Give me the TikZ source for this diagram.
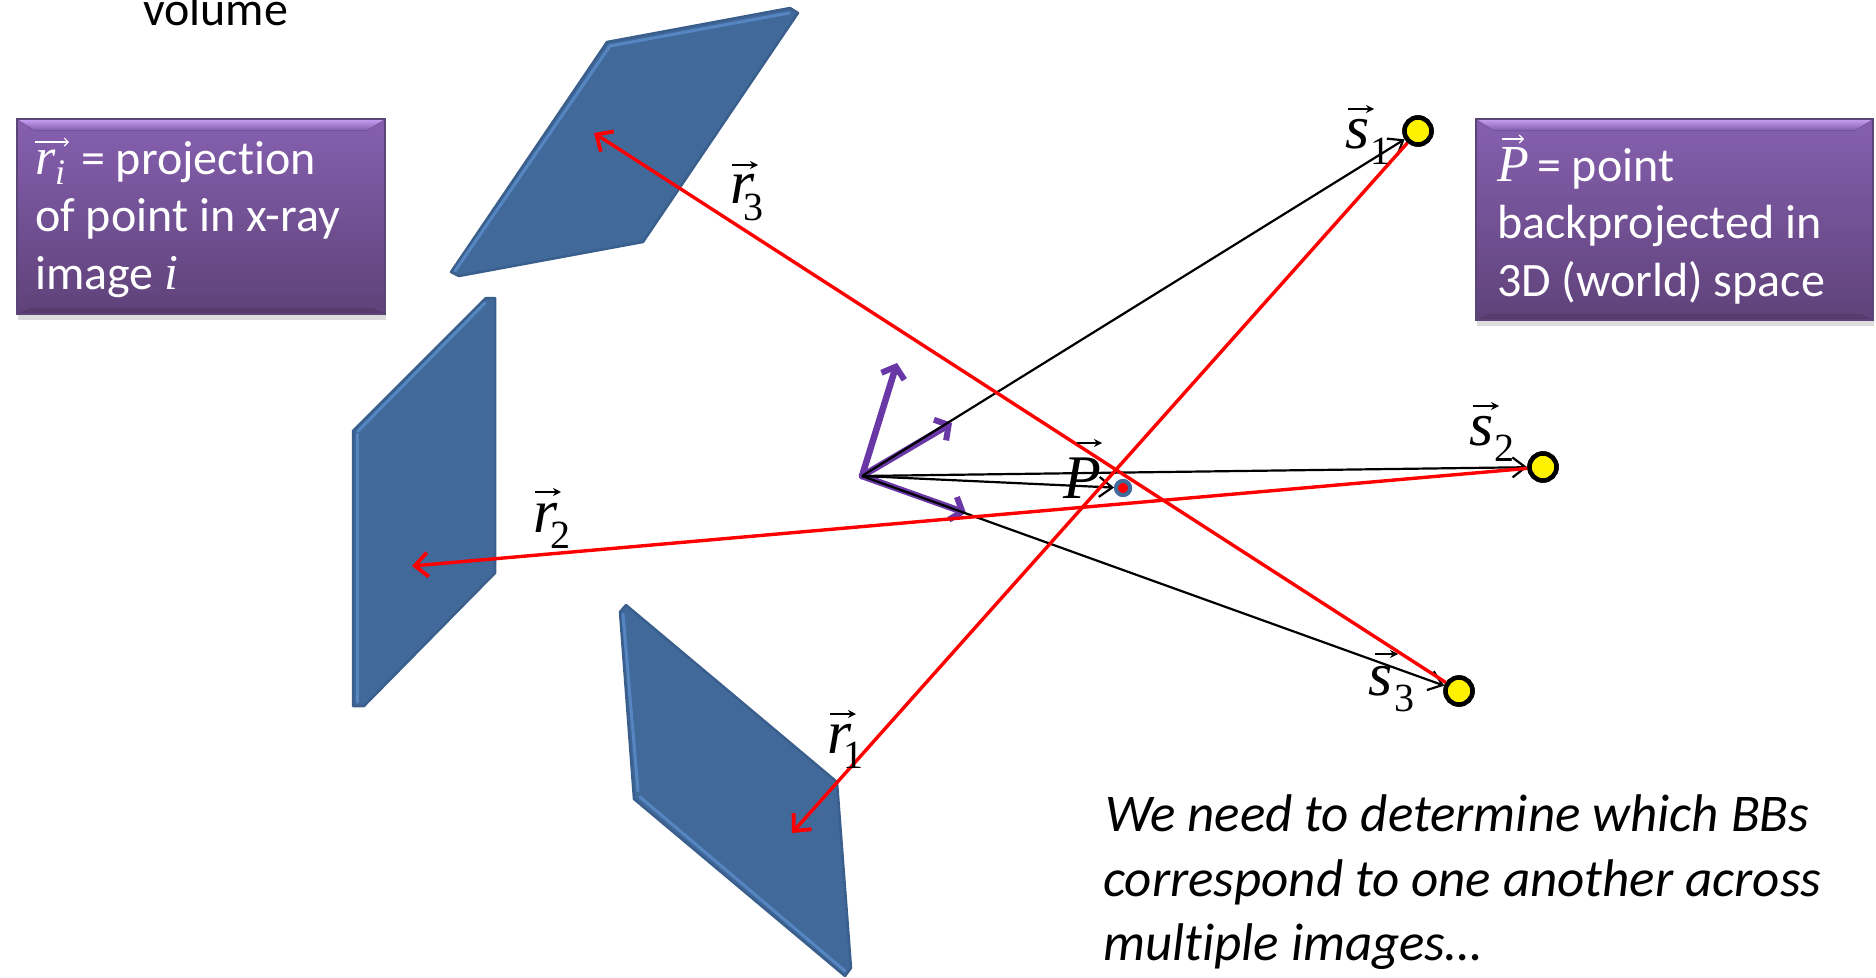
\documentclass[tikz,border=0pt]{standalone}
\usepackage{fontspec}
\usetikzlibrary{arrows.meta,shadows}
\setmainfont[Ligatures=NoCommon]{Carlito}
\newfontfamily\tnr{Liberation Serif}
\definecolor{panel}{HTML}{41699A}
\definecolor{paneledge}{HTML}{3A5F8C}
\definecolor{panellight}{HTML}{5586C2}
\definecolor{boxtop}{HTML}{8660B0}
\definecolor{boxbot}{HTML}{5F4279}
\definecolor{boxedge}{HTML}{5B4476}
\definecolor{bevel}{HTML}{C9A0F4}
\definecolor{arrowpurple}{HTML}{6A37A6}
\definecolor{ptblue}{HTML}{41699A}
\tikzset{
  x=1pt,y=-1pt,
  panelbody/.style={fill=panel,draw=paneledge,line width=2.5pt,line join=round},
  panelrim/.style={draw=panellight,line width=3pt,line cap=round},
  redray/.style={draw=red,line width=3.4pt,-{Straight Barb[length=13pt,width=24pt,line width=3.8pt]}},
  blackray/.style={draw=black,line width=2.2pt,-{Straight Barb[length=13pt,width=20pt,line width=2.2pt]}},
  purplearrow/.style={draw=arrowpurple,line width=6.5pt,line cap=round,-{Straight Barb[length=10pt,width=24pt,line width=6pt]}},
  bb/.style={circle,fill=yellow,draw=black,line width=4.5pt,minimum size=27pt,inner sep=0pt},
  veclabel/.style={inner sep=0pt,anchor=base west,font=\tnr\itshape\fontsize{62}{62}\selectfont},
  vecsub/.style={inner sep=0pt,anchor=base west,font=\tnr\fontsize{40}{40}\selectfont},
  vecbar/.style={draw=black,line width=2pt,-{Stealth[length=8pt,width=8pt]}},
  boxtext/.style={inner sep=0pt,anchor=base west,text=white,font=\fontsize{48}{48}\selectfont},
  boxmath/.style={inner sep=0pt,anchor=base west,text=white,font=\tnr\itshape\fontsize{52}{52}\selectfont},
  whitebar/.style={draw=white,line width=1.3pt,-{Straight Barb[length=4pt,width=8pt,line width=1.2pt]}},
  note/.style={inner sep=0pt,anchor=base west,font=\itshape\fontsize{53}{53}\selectfont},
}
\newcommand{\purplebox}[4]{%
  \fill[black!45,opacity=.3] (#1+1,#4) rectangle (#3+1,#4+6);
  \shade[top color=boxtop,bottom color=boxbot] (#1,#2) rectangle (#3,#4);
  \fill[black,opacity=.10] (#1,#4) -- (#1+12,#4-6) -- (#3-12,#4-6) -- (#3,#4) -- cycle;
  \fill[top color=bevel,bottom color=boxtop] (#1,#2) -- (#3,#2) -- (#3-17,#2+11) -- (#1+17,#2+11) -- cycle;
  \draw[boxedge,line width=1.5pt] (#1,#2) rectangle (#3,#4);
}
\begin{document}
\begin{tikzpicture}
\useasboundingbox (0,0) rectangle (1876,977);
\begin{scope}
\clip (0,0) rectangle (1876,977);
\node[inner sep=0pt,anchor=base west,font=\fontsize{48}{48}\selectfont] (volume) at (143,25) {volume};

% top panel
\draw[panelbody] (607,42) -- (790,8) -- (798,13) -- (643,242) -- (459,276) -- (451,272) -- cycle;
\draw[panelrim] (789,13) -- (610,46) -- (455,271);
% left panel
\draw[panelbody] (486,298) -- (495,298) -- (495,573) -- (364,706) -- (353,706) -- (353,431) -- cycle;
\draw[panelrim] (485,303) -- (358,431);
\draw[panelrim] (357,434) -- (357,702);
% bottom panel
\draw[panelbody] (626,605) -- (837,782) -- (851,968) -- (845,976) -- (634,799) -- (620,612) -- cycle;
\draw[panelrim] (623,614) -- (638,791);
\draw[panelrim] (640,797) -- (845,971);

% purple boxes
\purplebox{17}{119}{385}{314}
\purplebox{1476}{119}{1873}{320}

\node[boxmath] (boxr) at (35,174) {r};
\node[inner sep=0pt,anchor=base west,text=white,font=\tnr\itshape\fontsize{36}{36}\selectfont] (boxri) at (55,184) {i};
\draw[whitebar] (35,142) -- (69,142);
\node[boxtext] (t1) at (81,174) {= projection};
\node[boxtext] (t2) at (35,231) {of point in x-ray};
\node[boxtext] (t3) at (35,289) {image {\tnr\itshape\fontsize{50}{50}\selectfont i}};

\node[boxmath] (boxp) at (1497,181) {P};
\draw[whitebar] (1502,139) -- (1524,139);
\node[boxtext] (t4) at (1537,181) {= point};
\node[boxtext] (t5) at (1497,238) {backprojected in};
\node[boxtext] (t6) at (1497,296) {3D (world) space};

% named points
\coordinate (O) at (862,476);
\coordinate (pa) at (897,363);
\coordinate (pb) at (952,423);
\coordinate (pc) at (966,513);
\node[bb] (s1) at (1418,131) {};
\node[bb] (s2) at (1543,467) {};
\node[bb] (s3) at (1459,691) {};
\node[circle,fill=red,draw=ptblue,line width=4pt,minimum size=14pt,inner sep=0pt] (P) at (1123,488) {};
\coordinate (r1end) at (792,833);
\coordinate (r2end) at (412,566);
\coordinate (r3end) at (594,133);

% purple axes
\draw[purplearrow] (O) -- (pa);
\draw[purplearrow] (O) -- (pb);
\draw[purplearrow] (O) -- (pc);

% black rays
\draw[blackray] (O) -- (s1);
\draw[blackray] (O) -- (s2);
\draw[blackray] (O) -- (s3);
\draw[blackray] (O) -- (P);

% red rays
\draw[redray] (s1) -- (r1end);
\draw[redray] (s2) -- (r2end);
\draw[redray] (s3) -- (r3end);

% redraw end points above the rays
\node[bb] at (s1) {};
\node[bb] at (s2) {};
\node[bb] at (s3) {};
\node[circle,fill=red,draw=ptblue,line width=4pt,minimum size=14pt,inner sep=0pt] at (P) {};

% vector labels
\node[veclabel] (ls1) at (1345,148) {s};
\node[vecsub] (ls1s) at (1370,164) {1};
\draw[vecbar] (1348,109) -- (1374,109);
\node[veclabel] (ls2) at (1469,445) {s};
\node[vecsub] (ls2s) at (1494,461) {2};
\draw[vecbar] (1473,406) -- (1499,406);
\node[veclabel] (ls3) at (1368,695) {s};
\node[vecsub] (ls3s) at (1394,711) {3};
\draw[vecbar] (1375,654) -- (1398,654);
\node[veclabel] (lr1) at (827,753) {r};
\node[vecsub] (lr1s) at (843,768) {1};
\draw[vecbar] (830,714) -- (856,714);
\node[veclabel] (lr2) at (533,532) {r};
\node[vecsub] (lr2s) at (550,548) {2};
\draw[vecbar] (535,492) -- (561,492);
\node[veclabel] (lr3) at (730,203) {r};
\node[vecsub] (lr3s) at (743,220) {3};
\draw[vecbar] (732,165) -- (758,165);
\node[veclabel] (lP) at (1063,498) {P};
\draw[vecbar] (1077,443) -- (1102,443);

% note
\node[note] (n1) at (1105,831) {We need to determine which BBs};
\node[note] (n2) at (1103,896) {correspond to one another across};
\node[note] (n3) at (1103,960) {multiple images…};
\end{scope}
\end{tikzpicture}
\end{document}
